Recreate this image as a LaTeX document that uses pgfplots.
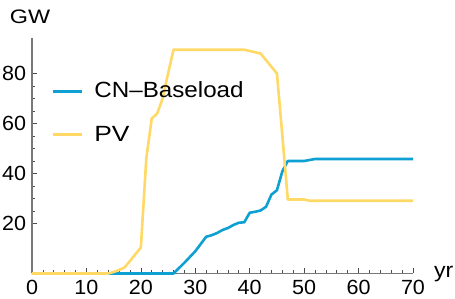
\documentclass[border=0pt]{standalone}
\usepackage{pgfplots}
\pgfplotsset{compat=1.18}
\usepackage{graphicx}
\usepackage{fontspec}
\setmainfont{Liberation Sans}
\definecolor{cnblue}{RGB}{14,160,210}
\definecolor{pvyellow}{RGB}{255,217,102}
\definecolor{axgray}{RGB}{120,120,120}
\begin{document}
\begin{tikzpicture}
\begin{axis}[
  at={(32pt,25.5pt)}, anchor=south west,
  scale only axis, width=381pt, height=235.5pt,
  xmin=0, xmax=70, ymin=0, ymax=94.2,
  axis lines=middle,
  axis line style={-, draw=axgray, line width=1.4pt},
  clip=false,
  hide obscured x ticks=false,
  hide obscured y ticks=false,
  xtick={0,10,...,70},
  ytick={20,40,60,80},
  minor x tick num=4,
  minor y tick num=3,
  tick align=inside,
  major tick length=5pt,
  minor tick length=3pt,
  tick style={draw=black!70, line width=0.7pt},
  /pgf/number format/assume math mode=true,
  tick label style={font=\fontsize{20.5}{20.5}\selectfont, xscale=1.05},
  xticklabel style={inner sep=0pt, yshift=-6.3pt},
  yticklabel style={inner sep=0pt, xshift=-5.5pt},
  every axis x label/.style={at={(axis cs:70,0)}, anchor=base west, xshift=17.5pt, yshift=-4pt, font=\fontsize{21}{21}\selectfont},
  every axis y label/.style={at={(axis cs:0,94.2)}, anchor=base, xshift=-2pt, yshift=14.5pt, font=\fontsize{19.5}{19.5}\selectfont},
  xlabel={\scalebox{1.1}[1]{yr}}, ylabel={\scalebox{1.2}[1]{GW}},
  legend cell align=left,
  legend style={draw=none, fill=none, at={(axis cs:3.5,76.6)}, anchor=north west,
    inner sep=0pt, row sep=27.5pt, column sep=11.5pt,
    font=\fontsize{22}{22}\selectfont,
    nodes={inner sep=0pt, text height=15.7pt, text depth=0pt}},
  legend image code/.code={\draw[#1] (0pt,-1.5pt) -- (29pt,-1.5pt);},
]
\addplot[cnblue, line width=2.6pt, line join=round] coordinates {
(0,0)(26,0)(28,4.3)(30,8.9)(32,14.7)(33,15.3)(34,16.2)(35,17.4)(36,18.2)(37,19.4)(38,20.3)(39,20.5)(40,24.3)(41,24.7)(42,25.2)(43,26.7)(44,31.6)(45,33.3)(46,40.9)(47,45)(50,45)(52,45.8)(70,45.8)
};
\addlegendentry{\scalebox{1.1}[1]{CN–Baseload}}
\addplot[pvyellow, line width=2.6pt, line join=round] coordinates {
(0,0)(14,0)(15,0.6)(16,1.4)(17,2.4)(18,5)(19,7.7)(20,10.4)(21,46)(22,62)(23,64)(24,70)(25,80)(26,89.5)(39,89.5)(42,88)(45,80)(46,55)(47,29.6)(50,29.6)(51,29.1)(70,29.1)
};
\addlegendentry{\scalebox{1.2}[1]{PV}}
\end{axis}
\pgfresetboundingbox
\path (0,0) rectangle (455pt,299pt);
\end{tikzpicture}
\end{document}
